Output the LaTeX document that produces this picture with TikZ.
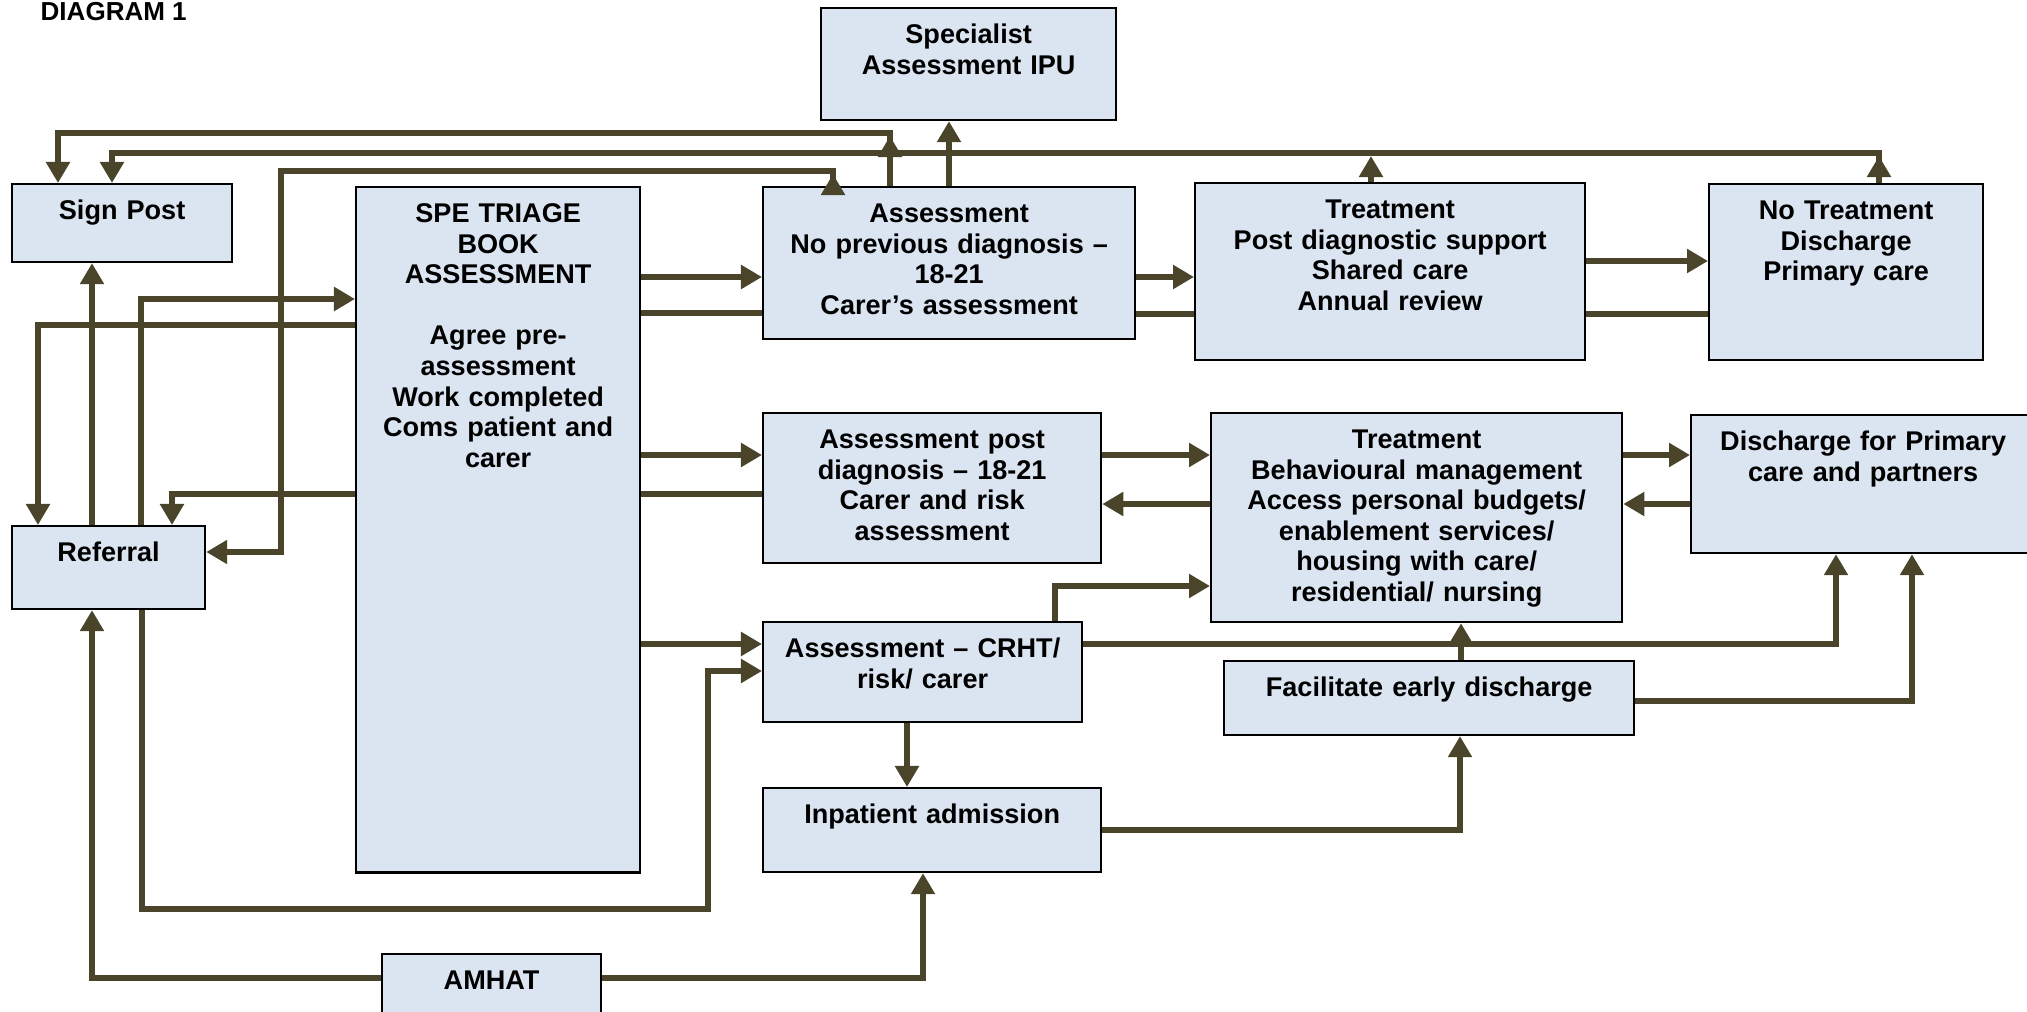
\documentclass[tikz,border=0pt]{standalone}
\usepackage{fontspec}
\setmainfont{Liberation Sans}
\usetikzlibrary{arrows.meta}
\definecolor{boxfill}{RGB}{219,229,241}
\definecolor{flow}{RGB}{74,68,42}
\begin{document}
\begin{tikzpicture}[x=0.01cm, y=-0.01cm, >={Triangle[length=2.1mm,width=2.3mm]},
  box/.style={draw, line width=0.6pt, fill=boxfill, anchor=north west, align=center, inner sep=0pt, text height=3.55mm, font=\fontsize{7.7pt}{8.7pt}\selectfont\bfseries},
  flowline/.style={draw=flow, line width=0.6mm}]
\useasboundingbox (0,0) rectangle (2027,1012);
\node[anchor=north west, inner sep=0pt, font=\fontsize{7.4pt}{8.7pt}\selectfont\bfseries] (title) at (40,2) {DIAGRAM 1};
\node[box, text width=2.95cm, text depth=7.65mm] (special) at (820,7) {Specialist\\Assessment IPU};
\node[box, text width=2.2cm, text depth=4.25mm] (signpost) at (11,183) {Sign Post};
\node[box, text width=2.84cm, text depth=64.95mm] (spe) at (355,186) {SPE TRIAGE\\BOOK\\ASSESSMENT\\[8.7pt]Agree pre-\\assessment\\Work completed\\Coms patient and\\carer};
\node[box, text width=3.72cm, text depth=11.65mm] (assess1) at (762,186) {Assessment\\No previous diagnosis –\\18-21\\Carer’s assessment};
\node[box, text width=3.9cm, text depth=14.15mm] (treat1) at (1194,182) {Treatment\\Post diagnostic support\\Shared care\\Annual review};
\node[box, text width=2.74cm, text depth=14.05mm] (notreat) at (1708,183) {No Treatment\\Discharge\\Primary care};
\node[box, text width=1.93cm, text depth=4.75mm] (referral) at (11,525) {Referral};
\node[box, text width=3.38cm, text depth=11.45mm] (assess2) at (762,412) {Assessment post\\diagnosis – 18-21\\Carer and risk\\assessment};
\node[box, text width=4.11cm, text depth=17.35mm] (treat2) at (1210,412) {Treatment\\Behavioural management\\Access personal budgets/\\enablement services/\\housing with care/\\residential/ nursing};
\node[box, text width=3.44cm, text depth=10.25mm] (discharge) at (1690,414) {Discharge for Primary\\care and partners};
\node[box, text width=3.19cm, text depth=6.45mm] (crht) at (762,621) {Assessment – CRHT/\\risk/ carer};
\node[box, text width=4.1cm, text depth=3.85mm] (facil) at (1223,660) {Facilitate early discharge};
\node[box, text width=3.38cm, text depth=4.85mm] (inpat) at (762,787) {Inpatient admission};
\node[box, text width=2.19cm, text depth=4.45mm] (amhat) at (381,953) {AMHAT};
\draw[flowline,->] (referral.north -| 92,0) -- (signpost.south -| 92,0);
\draw[flowline,->] (spe.west |- 0,325) -| (referral.north -| 38,0);
\draw[flowline,->] (referral.north -| 141,0) |- (spe.west |- 0,299);
\draw[flowline,->] (spe.west |- 0,494) -| (referral.north -| 172,0);
\draw[flowline,->] (assess1.north -| 833,0) |- (281,171) |- (referral.east |- 0,552);
\draw[flowline,->] (assess1.north -| 833,0) -- ++(0,-12);
\draw[flowline,->] (referral.south -| 142,0) |- (708,909) |- (crht.west |- 0,671);
\draw[flowline,->] (amhat.west |- 0,978) -| (referral.south -| 92,0);
\draw[flowline,->] (amhat.east |- 0,978) -| (inpat.south -| 923,0);
\draw[flowline,->] (spe.east |- 0,277) -- (assess1.west |- 0,277);
\draw[flowline] (spe.east |- 0,313) -- (assess1.west |- 0,313);
\draw[flowline,->] (spe.east |- 0,455) -- (assess2.west |- 0,455);
\draw[flowline] (spe.east |- 0,494) -- (assess2.west |- 0,494);
\draw[flowline,->] (spe.east |- 0,644) -- (crht.west |- 0,644);
\draw[flowline,->] (assess1.east |- 0,277) -- (treat1.west |- 0,277);
\draw[flowline] (assess1.east |- 0,314) -- (treat1.west |- 0,314);
\draw[flowline,->] (treat1.east |- 0,261) -- (notreat.west |- 0,261);
\draw[flowline] (treat1.east |- 0,314) -- (notreat.west |- 0,314);
\draw[flowline,->] (assess2.east |- 0,455) -- (treat2.west |- 0,455);
\draw[flowline,->] (treat2.west |- 0,504) -- (assess2.east |- 0,504);
\draw[flowline,->] (treat2.east |- 0,455) -- (discharge.west |- 0,455);
\draw[flowline,->] (discharge.west |- 0,504) -- (treat2.east |- 0,504);
\draw[flowline,->] (crht.north -| 1055,0) |- (treat2.west |- 0,586);
\draw[flowline,->] (crht.east |- 0,644) -| (discharge.south -| 1836,0);
\draw[flowline,->] (facil.north -| 1461,0) -- (treat2.south -| 1461,0);
\draw[flowline,->] (facil.east |- 0,701) -| (discharge.south -| 1912,0);
\draw[flowline,->] (crht.south -| 907,0) -- (inpat.north -| 907,0);
\draw[flowline,->] (inpat.east |- 0,830) -| (facil.south -| 1460,0);
\draw[flowline,->] (assess1.north -| 949,0) -- (special.south -| 949,0);
\draw[flowline,->] (assess1.north -| 890,0) |- (58,133) -- (signpost.north -| 58,0);
\draw[flowline,->] (assess1.north -| 890,0) -- ++(0,-50);
\draw[flowline,->] (notreat.north -| 1879,0) |- (112,153) -- (signpost.north -| 112,0);
\draw[flowline,->] (notreat.north -| 1879,0) -- ++(0,-27);
\draw[flowline,->] (treat1.north -| 1371,0) -- ++(0,-26);
\end{tikzpicture}
\end{document}
